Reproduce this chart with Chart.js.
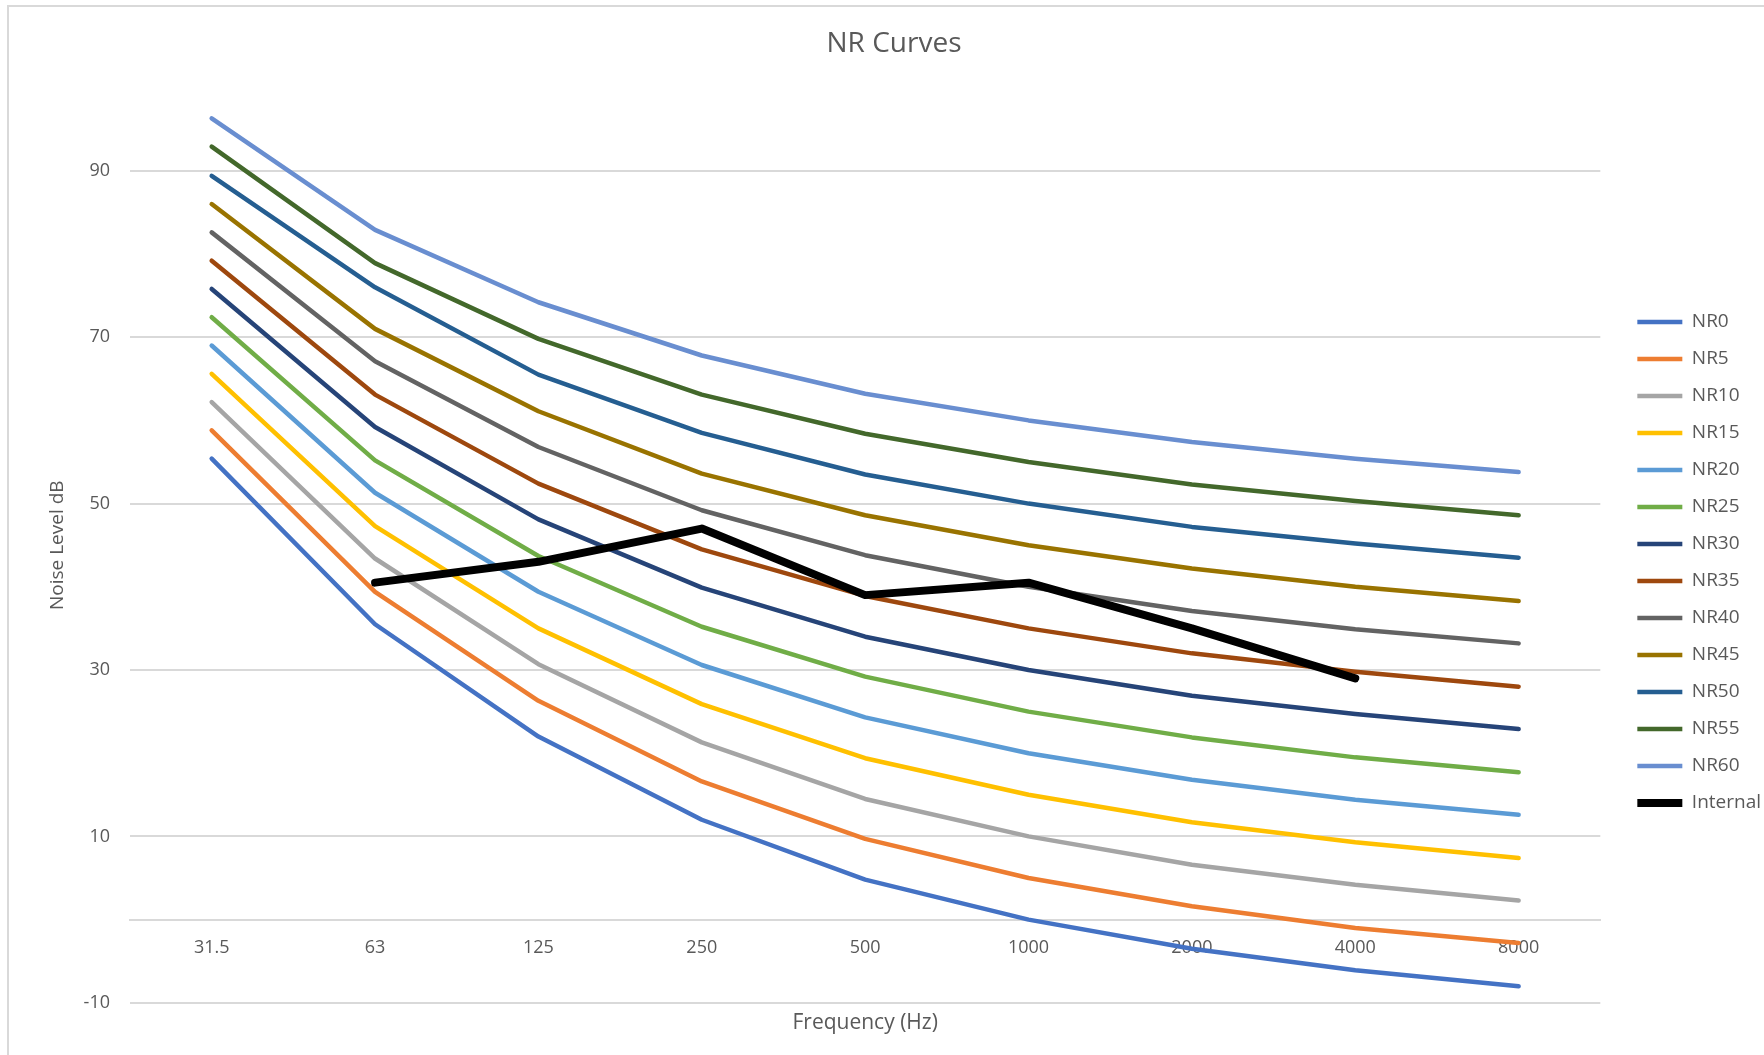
<!DOCTYPE html>
<html>
<head>
<meta charset="utf-8">
<title>NR Curves</title>
<script src="https://cdn.jsdelivr.net/npm/chart.js@4.4.0/dist/chart.umd.min.js"></script>
<style>
  html, body { margin: 0; padding: 0; background: #fff; overflow: hidden; }
  #wrap { position: relative; width: 1764px; height: 1055px; overflow: hidden; }
  #frame { position: absolute; left: 7px; top: 5px; width: 1800px; height: 1100px;
           border-left: 2px solid #d9d9d9; border-top: 2px solid #d9d9d9; }
  canvas { position: absolute; left: 0; top: 0; }
</style>
</head>
<body>
<div id="wrap">
  <div id="frame"></div>
  <canvas id="nrChart" width="1794" height="1055"></canvas>
</div>
<script>
const frequencies = ['31.5', '63', '125', '250', '500', '1000', '2000', '4000', '8000'];
const yTicks = [-10, 10, 30, 50, 70, 90];

// noise rating curves, dB per octave band
const nr0  = [55.4, 35.5, 22.0, 12.0, 4.8, 0, -3.5, -6.1, -8.0];
const nr5  = [58.8, 39.4, 26.3, 16.6, 9.7, 5, 1.6, -1.0, -2.8];
const nr10 = [62.2, 43.4, 30.7, 21.3, 14.5, 10, 6.6, 4.2, 2.3];
const nr15 = [65.6, 47.3, 35.0, 25.9, 19.4, 15, 11.7, 9.3, 7.4];
const nr20 = [69.0, 51.3, 39.4, 30.6, 24.3, 20, 16.8, 14.4, 12.6];
const nr25 = [72.4, 55.2, 43.7, 35.2, 29.2, 25, 21.9, 19.5, 17.7];
const nr30 = [75.8, 59.2, 48.1, 39.9, 34.0, 30, 26.9, 24.7, 22.9];
const nr35 = [79.2, 63.1, 52.4, 44.5, 38.9, 35, 32.0, 29.8, 28.0];
const nr40 = [82.6, 67.1, 56.8, 49.2, 43.8, 40, 37.1, 34.9, 33.2];
const nr45 = [86.0, 71.0, 61.1, 53.6, 48.6, 45, 42.2, 40.0, 38.3];
const nr50 = [89.4, 76.0, 65.5, 58.5, 53.5, 50, 47.2, 45.2, 43.5];
const nr55 = [92.9, 78.9, 69.8, 63.1, 58.4, 55, 52.3, 50.3, 48.6];
const nr60 = [96.3, 82.9, 74.2, 67.8, 63.2, 60, 57.4, 55.4, 53.8];
const internal = [null, 40.5, 43, 47, 39, 40.5, 35, 29, null];

const series = [
  { name: 'NR0', data: nr0, color: '#4472C4' },
  { name: 'NR5', data: nr5, color: '#ED7D31' },
  { name: 'NR10', data: nr10, color: '#A5A5A5' },
  { name: 'NR15', data: nr15, color: '#FFC000' },
  { name: 'NR20', data: nr20, color: '#5B9BD5' },
  { name: 'NR25', data: nr25, color: '#70AD47' },
  { name: 'NR30', data: nr30, color: '#264478' },
  { name: 'NR35', data: nr35, color: '#9E480E' },
  { name: 'NR40', data: nr40, color: '#636363' },
  { name: 'NR45', data: nr45, color: '#997300' },
  { name: 'NR50', data: nr50, color: '#255E91' },
  { name: 'NR55', data: nr55, color: '#43682B' },
  { name: 'NR60', data: nr60, color: '#698ED0' },
  { name: 'Internal', data: internal, color: '#000000' },
];

const textColor = '#595959';
const fontFamily = '"Open Sans", sans-serif';

// Excel keeps the legend a little further from the plot and lower down
const legendOffset = {
  id: 'legendOffset',
  afterLayout(chart) {
    const legend = chart.legend;
    legend.left += 19;
    legend.right += 19;
    legend.top += 35;
    legend.bottom += 35;
  },
};

new Chart(document.getElementById('nrChart'), {
  type: 'line',
  data: {
    labels: frequencies,
    datasets: series.map((s, i) => ({
      label: s.name,
      data: s.data,
      borderColor: s.color,
      backgroundColor: s.color,
      borderWidth: s.name === 'Internal' ? 8 : 4.5,
      order: series.length - i, // later series on top, like Excel
      pointRadius: 0,
      tension: 0,
      fill: false,
      borderCapStyle: 'round',
      borderJoinStyle: 'round',
    })),
  },
  options: {
    responsive: false,
    animation: false,
    layout: { padding: { left: 36, right: 42, top: 10, bottom: 10 } },
    plugins: {
      title: {
        display: true,
        text: 'NR Curves',
        color: textColor,
        font: { family: fontFamily, size: 28, weight: 'normal' },
        padding: { top: 17, bottom: 27 },
      },
      subtitle: {
        display: true,
        position: 'bottom',
        fullSize: false,
        text: 'Frequency (Hz)',
        color: textColor,
        font: { family: fontFamily, size: 21, weight: 'normal' },
        padding: { top: 8, bottom: 9 },
      },
      legend: {
        position: 'right',
        labels: {
          usePointStyle: true,
          pointStyle: 'line',
          pointStyleWidth: 45,
          padding: 18,
          color: textColor,
          font: { family: fontFamily, size: 19 },
          sort: (a, b) => a.datasetIndex - b.datasetIndex,
        },
      },
      tooltip: { enabled: false },
    },
    scales: {
      x: {
        position: { y: 0 },
        offset: true,
        grid: { display: false },
        border: { color: '#d9d9d9', width: 2 },
        ticks: {
          color: textColor,
          font: { family: fontFamily, size: 18 },
          padding: 9,
          maxRotation: 0,
          autoSkip: false,
        },
      },
      y: {
        min: -10,
        max: 100,
        afterBuildTicks: scale => {
          scale.ticks = yTicks.map(v => ({ value: v }));
        },
        afterFit: scale => {
          scale.width = 94;
        },
        grid: { color: '#d9d9d9', lineWidth: 2, drawTicks: false },
        border: { display: false },
        ticks: {
          color: textColor,
          font: { family: fontFamily, size: 18 },
          padding: 20,
        },
        title: {
          display: true,
          text: 'Noise Level dB',
          color: textColor,
          font: { family: fontFamily, size: 19 },
          padding: { top: 10, bottom: 0 },
        },
      },
    },
  },
  plugins: [legendOffset],
});
</script>
</body>
</html>
